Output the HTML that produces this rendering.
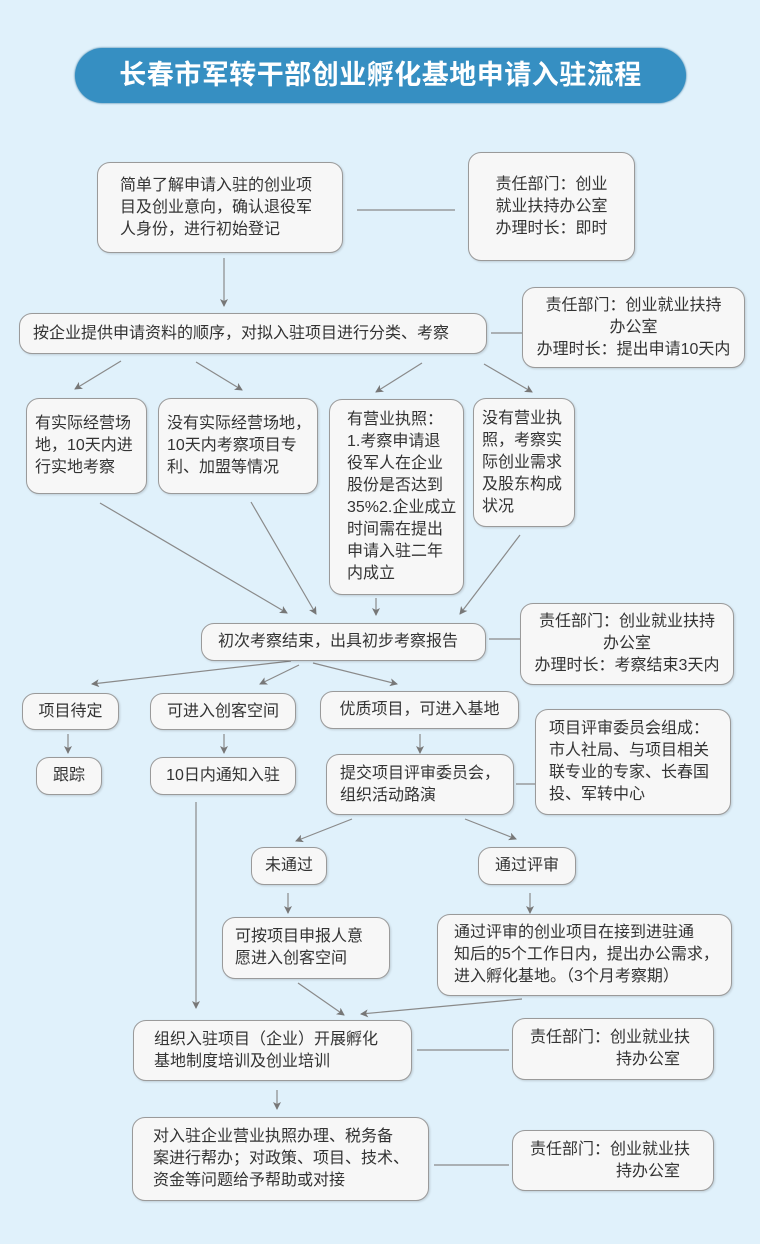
<!DOCTYPE html>
<html><head><meta charset="utf-8"><style>
body{margin:0;width:760px;height:1244px;background:#e0f1fb;position:relative;overflow:hidden;font-family:"Liberation Sans","Noto Sans CJK SC",sans-serif;}
.t{position:absolute;left:75px;top:48px;width:611px;height:55px;border-radius:28px;background:#368fc2;color:#fff;font-size:27px;font-weight:bold;line-height:55px;text-align:center;letter-spacing:0.5px;box-shadow:0 0 2px #2a6f98;}
.b{position:absolute;box-sizing:border-box;background:#f7f7f7;border:1px solid #9a9a9a;border-radius:13px;color:#333;font-size:16px;line-height:22px;padding:0 10px;display:flex;flex-direction:column;justify-content:center;box-shadow:1px 1px 2px rgba(0,0,0,.15);white-space:nowrap;}
.c{text-align:center;align-items:center}
svg{position:absolute;left:0;top:0}
</style></head><body>
<div class="t">长春市军转干部创业孵化基地申请入驻流程</div>
<svg width="760" height="1244"><defs><marker id="a" markerWidth="8" markerHeight="8" refX="7" refY="4" orient="auto" markerUnits="userSpaceOnUse"><path d="M0,0 L8,4 L0,8 L2,4 z" fill="#777"/></marker></defs>
<g stroke="#8a8a8a" stroke-width="1.2" fill="none">
<line x1="357" y1="210" x2="455" y2="210"/>
<line x1="224" y1="258" x2="224" y2="306" marker-end="url(#a)"/>
<line x1="491" y1="333" x2="522" y2="333"/>
<line x1="121" y1="361" x2="75" y2="389" marker-end="url(#a)"/>
<line x1="196" y1="362" x2="242" y2="390" marker-end="url(#a)"/>
<line x1="422" y1="363" x2="376" y2="392" marker-end="url(#a)"/>
<line x1="484" y1="364" x2="532" y2="392" marker-end="url(#a)"/>
<line x1="100" y1="503" x2="287" y2="613" marker-end="url(#a)"/>
<line x1="251" y1="502" x2="316" y2="614" marker-end="url(#a)"/>
<line x1="376" y1="598" x2="376" y2="615" marker-end="url(#a)"/>
<line x1="520" y1="535" x2="460" y2="614" marker-end="url(#a)"/>
<line x1="489" y1="639" x2="520" y2="639"/>
<line x1="291" y1="661" x2="92" y2="684" marker-end="url(#a)"/>
<line x1="299" y1="665" x2="260" y2="684" marker-end="url(#a)"/>
<line x1="313" y1="663" x2="397" y2="684" marker-end="url(#a)"/>
<line x1="68" y1="734" x2="68" y2="753" marker-end="url(#a)"/>
<line x1="224" y1="734" x2="224" y2="753" marker-end="url(#a)"/>
<line x1="420" y1="734" x2="420" y2="753" marker-end="url(#a)"/>
<line x1="516" y1="784" x2="535" y2="784"/>
<line x1="196" y1="802" x2="196" y2="1008" marker-end="url(#a)"/>
<line x1="352" y1="819" x2="296" y2="841" marker-end="url(#a)"/>
<line x1="465" y1="819" x2="516" y2="839" marker-end="url(#a)"/>
<line x1="288" y1="893" x2="288" y2="913" marker-end="url(#a)"/>
<line x1="530" y1="893" x2="530" y2="913" marker-end="url(#a)"/>
<line x1="298" y1="983" x2="344" y2="1015" marker-end="url(#a)"/>
<line x1="522" y1="999" x2="361" y2="1014" marker-end="url(#a)"/>
<line x1="417" y1="1050" x2="509" y2="1050"/>
<line x1="277" y1="1090" x2="277" y2="1109" marker-end="url(#a)"/>
<line x1="434" y1="1165" x2="509" y2="1165"/>
</g></svg>
<div class="b" style="left:97px;top:162px;width:246px;height:91px;padding-left:22px">简单了解申请入驻的创业项<br>目及创业意向，确认退役军<br>人身份，进行初始登记</div>
<div class="b c" style="left:468px;top:152px;width:167px;height:109px">责任部门：创业<br>就业扶持办公室<br>办理时长：即时</div>
<div class="b" style="left:19px;top:313px;width:468px;height:41px;padding-left:13px">按企业提供申请资料的顺序，对拟入驻项目进行分类、考察</div>
<div class="b c" style="left:522px;top:287px;width:223px;height:81px">责任部门：创业就业扶持<br>办公室<br>办理时长：提出申请10天内</div>
<div class="b" style="left:26px;top:398px;width:121px;height:96px;padding:0 8px">有实际经营场<br>地，10天内进<br>行实地考察</div>
<div class="b" style="left:158px;top:398px;width:160px;height:96px;padding:0 8px">没有实际经营场地，<br>10天内考察项目专<br>利、加盟等情况</div>
<div class="b" style="left:329px;top:399px;width:135px;height:196px;padding:0 6px 0 17px">有营业执照：<br>1.考察申请退<br>役军人在企业<br>股份是否达到<br>35%2.企业成立<br>时间需在提出<br>申请入驻二年<br>内成立</div>
<div class="b" style="left:473px;top:398px;width:102px;height:129px;padding:0 8px">没有营业执<br>照，考察实<br>际创业需求<br>及股东构成<br>状况</div>
<div class="b" style="left:201px;top:623px;width:285px;height:38px;padding-left:16px">初次考察结束，出具初步考察报告</div>
<div class="b c" style="left:520px;top:603px;width:214px;height:82px">责任部门：创业就业扶持<br>办公室<br>办理时长：考察结束3天内</div>
<div class="b c" style="left:22px;top:693px;width:97px;height:37px">项目待定</div>
<div class="b c" style="left:150px;top:693px;width:146px;height:37px">可进入创客空间</div>
<div class="b c" style="left:320px;top:691px;width:199px;height:38px">优质项目，可进入基地</div>
<div class="b c" style="left:36px;top:757px;width:66px;height:38px">跟踪</div>
<div class="b c" style="left:150px;top:757px;width:146px;height:38px">10日内通知入驻</div>
<div class="b" style="left:326px;top:754px;width:188px;height:61px;padding-left:13px">提交项目评审委员会，<br>组织活动路演</div>
<div class="b" style="left:535px;top:709px;width:196px;height:106px;padding-left:13px">项目评审委员会组成：<br>市人社局、与项目相关<br>联专业的专家、长春国<br>投、军转中心</div>
<div class="b c" style="left:251px;top:847px;width:76px;height:38px">未通过</div>
<div class="b c" style="left:478px;top:847px;width:98px;height:38px">通过评审</div>
<div class="b" style="left:222px;top:917px;width:168px;height:62px;padding-left:12px">可按项目申报人意<br>愿进入创客空间</div>
<div class="b" style="left:437px;top:914px;width:295px;height:82px;padding-left:16px">通过评审的创业项目在接到进驻通<br>知后的5个工作日内，提出办公需求，<br>进入孵化基地。（3个月考察期）</div>
<div class="b" style="left:133px;top:1020px;width:279px;height:61px;padding-left:20px">组织入驻项目（企业）开展孵化<br>基地制度培训及创业培训</div>
<div class="b" style="left:512px;top:1018px;width:202px;height:62px;padding-left:17px">责任部门：创业就业扶<br><span style="padding-left:86px">持办公室</span></div>
<div class="b" style="left:132px;top:1117px;width:297px;height:84px;padding-left:20px">对入驻企业营业执照办理、税务备<br>案进行帮办；对政策、项目、技术、<br>资金等问题给予帮助或对接</div>
<div class="b" style="left:512px;top:1130px;width:202px;height:61px;padding-left:17px">责任部门：创业就业扶<br><span style="padding-left:86px">持办公室</span></div>
</body></html>
